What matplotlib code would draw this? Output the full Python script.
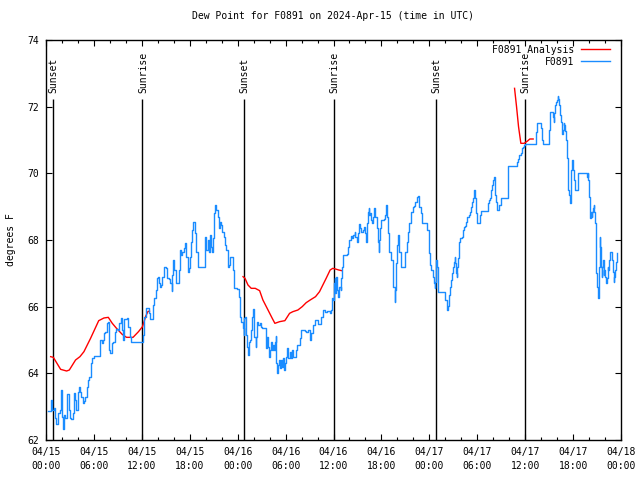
import numpy as np
import matplotlib
matplotlib.use("Agg")
import matplotlib.pyplot as plt
from matplotlib.lines import Line2D

plt.rcParams['font.family'] = ['DejaVu Sans Mono']

title = "Dew Point for F0891 on 2024-Apr-15 (time in UTC)"
ylabel = "degrees F"
series_names = ["F0891 Analysis", "F0891"]

# hours since 04/15 00:00 UTC
obs_hours = [0.25, 0.58, 0.79, 1.0, 1.13, 1.29, 1.5, 1.71, 1.83, 1.96, 2.08, 2.25, 2.42, 2.58, 2.67, 2.83, 2.96, 3.17,
             3.33, 3.5, 3.67, 3.79, 3.96, 4.13, 4.29, 4.42, 4.58, 4.75, 4.92, 5.08, 5.25, 5.42, 5.58, 5.79, 6.0, 6.63,
             6.75, 6.96, 7.08, 7.25, 7.42, 7.58, 7.75, 7.83, 8.0, 8.21, 8.42, 8.58, 8.75, 9.0, 9.17, 9.33, 9.5, 9.58,
             9.75, 10.08, 10.25, 10.5, 10.67, 12.08, 12.17,
             12.33, 12.5, 12.58, 12.83, 12.92, 13.08, 13.33, 13.42, 13.54, 13.75, 13.83, 13.96, 14.08, 14.17, 14.25,
             14.42, 14.58, 14.75, 15.0, 15.17, 15.42, 15.58, 15.75, 15.83, 15.92, 16.0, 16.08, 16.25, 16.58, 16.67,
             16.75, 16.92, 17.08, 17.25, 17.42, 17.58, 17.75, 17.92, 18.08, 18.21, 18.33, 18.46, 18.63, 18.83, 19.04,
             19.79, 19.88, 20.0, 20.08, 20.25, 20.38, 20.5, 20.63, 20.75, 20.88, 21.0, 21.08, 21.17, 21.33, 21.5,
             21.67, 21.79, 21.92, 22.08, 22.25, 22.42, 22.58, 22.75, 22.83, 22.92, 23.08, 23.33, 23.42, 23.5, 23.58,
             23.92, 24.17,
             24.29, 24.46, 24.62, 24.75, 24.83, 24.92, 25.0, 25.17, 25.29, 25.42, 25.58, 25.71, 25.83, 25.9, 26.0,
             26.1, 26.25, 26.33, 26.46, 26.58, 26.75, 26.92, 27.08, 27.38, 27.5, 27.58, 27.67, 27.79, 27.92, 28.08,
             28.2, 28.33, 28.42, 28.58, 28.67, 28.75, 28.83, 28.92, 29.04, 29.17, 29.29, 29.42, 29.54, 29.67, 29.79,
             29.92, 30.08, 30.2, 30.33, 30.5, 30.63, 30.75, 30.92, 31.04, 31.25, 31.42, 31.58, 31.75, 31.92, 32.42,
             32.58, 32.75, 32.92, 33.0, 33.1, 33.17, 33.42, 33.67, 33.92, 34.0, 34.25, 34.46, 34.67, 34.92, 35.17,
             35.5, 35.67, 35.75, 35.92, 36.0, 36.08, 36.17, 36.25, 36.33, 36.42, 36.5,
             36.58, 36.75, 36.92, 37.0, 37.08, 37.17, 37.67, 37.83, 38.0, 38.17, 38.33, 38.5, 38.67, 38.75, 38.92,
             39.08, 39.17, 39.33, 39.5, 39.67, 39.83, 40.0, 40.08, 40.25, 40.33, 40.42, 40.5, 40.58, 40.67, 40.83,
             41.0, 41.08, 41.25, 41.42, 41.58, 41.67, 41.75, 41.83, 41.92, 42.33, 42.5, 42.58, 42.67, 42.75, 42.83,
             43.0, 43.17, 43.25, 43.42, 43.5, 43.67, 43.75, 43.83, 44.0, 44.08, 44.17, 44.25, 44.42, 44.92, 45.0,
             45.17, 45.33, 45.5, 45.67, 45.75, 45.92, 46.08, 46.25, 46.42, 46.58, 46.67, 46.75, 46.92, 47.08, 47.67,
             47.75, 47.92,
             48.0, 48.08, 48.21, 48.42, 48.5, 48.58, 48.67, 48.75, 48.83, 48.92, 49.04, 49.13, 49.88, 50.0, 50.17,
             50.29, 50.42, 50.58, 50.71, 50.83, 50.96, 51.08, 51.17, 51.25, 51.33, 51.42, 51.5, 51.58, 51.67, 51.75,
             51.88, 52.04, 52.17, 52.33, 52.5, 52.58, 52.75, 52.92, 53.08, 53.25, 53.33, 53.46, 53.54, 53.63, 53.71,
             53.83, 53.92, 54.17, 54.33, 54.42, 55.17, 55.29, 55.42, 55.58, 55.71, 55.83, 55.96, 56.08, 56.17, 56.25,
             56.33, 56.42, 56.58, 56.75, 56.92, 57.67, 57.79, 57.88, 58.75, 58.92, 59.08, 59.25, 59.42, 59.58, 59.71,
             59.83, 59.92, 61.2, 61.33, 61.42, 61.92, 62.0, 62.17, 62.25, 62.92, 63.0, 63.13, 63.42, 63.5, 63.58,
             63.67, 63.75, 63.83, 64.0, 64.08, 64.17, 64.25, 64.33, 64.42, 64.5, 64.58, 64.67, 64.75, 64.83, 64.92,
             65.0, 65.08, 65.25, 65.33, 65.42, 65.5, 65.58, 65.67, 65.75, 65.92, 66.0, 66.08, 66.25, 66.5, 66.58,
             66.67, 67.67, 67.75, 67.83, 67.92, 68.0, 68.08, 68.17, 68.25, 68.33, 68.42, 68.5, 68.58, 68.67, 68.75,
             68.83, 68.92, 69.0, 69.08, 69.17, 69.25, 69.33, 69.42, 69.5, 69.58, 69.67, 69.75, 69.83, 69.92, 70.0,
             70.17, 70.25, 70.33, 70.42, 70.5, 70.58, 70.83, 70.92, 71.0, 71.08, 71.17, 71.25, 71.33, 71.42, 71.5]

obs_values = [62.87, 63.2, 62.9, 62.95, 62.65, 62.48, 62.8, 62.9, 63.5, 62.7, 62.32, 62.75, 62.65, 62.74, 63.37, 62.9,
              62.65, 62.62, 62.8, 63.4, 63.2, 62.9, 63.45, 63.58, 63.45, 63.3, 63.1, 63.18, 63.3, 63.6, 63.8, 63.9,
              64.3, 64.45, 64.52, 64.52, 65.0, 64.9, 65.0, 65.2, 65.23, 65.5, 65.55, 64.7, 64.62, 64.9, 64.95, 65.25,
              65.32, 65.3, 65.5, 65.65, 65.3, 65.0, 65.62, 65.65, 65.4, 65.1, 64.95, 64.95, 65.15,
              65.7, 65.75, 65.95, 65.95, 65.8, 65.62, 65.62, 66.05, 66.25, 66.25, 66.5, 66.85, 66.88, 66.7, 66.58,
              66.65, 66.88, 67.18, 67.16, 66.85, 66.82, 66.7, 66.48, 66.95, 67.4, 67.2, 67.1, 66.7, 66.7, 67.1,
              67.7, 67.55, 67.65, 67.75, 67.9, 67.5, 67.05, 67.15, 67.5, 67.95, 68.3, 68.55, 68.2, 67.65, 67.2,
              67.2, 68.1, 68.05, 67.7, 68.0, 67.65, 68.15, 67.8, 67.65, 68.05, 68.1, 68.8, 69.05, 68.9, 68.7,
              68.35, 68.55, 68.45, 68.25, 68.1, 67.85, 67.7, 67.45, 67.2, 67.25, 67.5, 67.5, 67.1, 66.82, 66.55,
              66.52, 66.3,
              65.7, 65.55, 65.35, 65.15, 65.65, 65.7, 65.15, 64.8, 64.55, 64.95, 65.0, 65.3, 65.7, 65.92, 65.65,
              65.1, 64.8, 65.1, 65.55, 65.45, 65.5, 65.38, 65.35, 65.35, 65.05, 64.75, 65.1, 64.8, 64.5, 64.7,
              64.95, 64.7, 64.85, 64.7, 64.95, 65.12, 64.3, 64.0, 64.25, 64.4, 64.15, 64.4, 64.2, 64.45, 64.1,
              64.3, 64.5, 64.75, 64.45, 64.65, 64.45, 64.7, 64.5, 64.5, 64.7, 64.85, 64.85, 65.05, 65.3, 65.28,
              65.25, 65.3, 65.3, 65.15, 65.0, 65.2, 65.45, 65.6, 65.6, 65.48, 65.48, 65.7, 65.9, 65.85, 65.88,
              65.82, 65.9, 66.25, 66.2, 66.5, 66.7, 66.85, 66.4, 66.9, 66.7, 66.5,
              66.3, 66.6, 66.5, 66.85, 67.2, 67.55, 67.58, 67.8, 68.0, 68.12, 68.05, 68.15, 68.25, 68.1, 67.95,
              68.2, 68.47, 68.35, 68.25, 68.3, 68.4, 68.2, 67.95, 68.5, 68.85, 68.95, 68.75, 68.8, 68.6, 68.5,
              68.7, 68.95, 68.7, 68.35, 67.95, 67.65, 68.0, 68.35, 68.6, 68.62, 68.75, 69.05, 68.8, 68.7, 68.2,
              67.65, 67.65, 67.4, 67.2, 66.6, 66.15, 66.5, 67.3, 67.85, 68.15, 68.0, 67.65, 67.18, 67.18, 67.65,
              67.95, 68.25, 68.52, 68.6, 68.85, 69.0, 69.02, 69.15, 69.3, 69.32, 69.2, 69.0, 68.8, 68.5, 68.48,
              68.3, 67.95,
              67.6, 67.25, 67.1, 67.1, 66.9, 66.7, 66.55, 66.75, 67.4, 67.2, 66.7, 66.45, 66.45, 66.2, 65.9,
              66.02, 66.35, 66.6, 66.8, 67.0, 67.2, 67.35, 67.5, 67.3, 67.0, 66.9, 67.2, 67.45, 67.75, 67.95,
              68.05, 68.1, 68.3, 68.4, 68.42, 68.55, 68.7, 68.75, 68.85, 69.0, 69.15, 69.25, 69.45, 69.5, 69.25,
              68.8, 68.5, 68.5, 68.75, 68.88, 68.88, 69.1, 69.2, 69.25, 69.5, 69.65, 69.8, 69.9, 69.7, 69.35,
              69.15, 68.9, 68.9, 69.05, 69.25, 69.25, 69.5, 70.22, 70.22, 70.35, 70.42, 70.55, 70.6, 70.75, 70.8,
              70.85, 70.88, 70.88, 71.25, 71.52, 71.52, 71.35, 71.0, 70.88, 70.88, 71.3, 71.85, 71.85, 71.7, 71.55,
              71.8, 72.05, 72.15, 72.2, 72.32, 72.22, 72.05, 72.0, 71.75, 71.55, 71.4, 71.18, 71.3, 71.5, 71.45,
              71.28, 71.0, 70.45, 69.8, 69.5, 69.35, 69.2, 69.1, 70.1, 70.4, 70.1, 69.8, 69.5, 69.5, 69.8,
              70.0, 70.0, 69.9, 70.0, 69.8, 69.3, 68.95, 68.65, 68.85, 68.7, 68.85, 68.95, 69.05, 68.85, 68.5,
              67.3, 67.0, 66.6, 66.4, 66.25, 67.2, 68.1, 67.8, 67.2, 66.9, 67.2, 67.4, 66.95, 67.1, 66.9,
              66.72, 66.85, 67.2, 67.1, 67.4, 67.65, 67.65, 67.4, 67.05, 66.75, 66.9, 67.1, 67.3, 67.35, 67.6]

# analysis series, NaN marks gaps between runs
ana_hours = [0.58, 0.92, 1.83, 2.58, 2.92, 3.7, 4.25, 4.75, 5.58, 6.6, 7.25, 7.8, 8.3, 8.83, 9.54, 10.08, 10.9,
             11.58, 12.08, 12.5, 12.75, 12.96, 18.0,
             24.67, 24.92, 25.29, 25.7, 26.2, 26.75, 27.16, 27.8, 28.33, 28.66, 29.25, 29.91, 30.5, 30.91, 31.54,
             32.08, 32.58, 33.08, 33.75, 34.25, 35.08, 35.58, 35.91, 36.25, 36.66, 37.04, 48.0,
             58.67, 58.92, 59.17, 59.46, 59.87, 60.3, 60.58, 61.0]
ana_values = [64.5, 64.48, 64.12, 64.07, 64.1, 64.4, 64.5, 64.65, 65.05, 65.58, 65.66, 65.68, 65.5, 65.35, 65.17,
              65.08, 65.08, 65.25, 65.4, 65.72, 65.85, 65.87, np.nan,
              66.9, 66.85, 66.65, 66.55, 66.55, 66.48, 66.2, 65.9, 65.65, 65.5, 65.55, 65.58, 65.8, 65.85, 65.9,
              66.0, 66.12, 66.2, 66.3, 66.45, 66.85, 67.1, 67.15, 67.13, 67.1, 67.08, np.nan,
              72.55, 72.0, 71.4, 70.9, 70.9, 70.97, 71.03, 71.03]

sun_labels = ["Sunset", "Sunrise", "Sunset", "Sunrise", "Sunset", "Sunrise"]
sun_hours = [0.875, 12.04, 24.8, 36.04, 48.8, 59.92]

xtick_hours = [0, 6, 12, 18, 24, 30, 36, 42, 48, 54, 60, 66, 72]
xtick_labels = ["04/15\n00:00", "04/15\n06:00", "04/15\n12:00", "04/15\n18:00",
                "04/16\n00:00", "04/16\n06:00", "04/16\n12:00", "04/16\n18:00",
                "04/17\n00:00", "04/17\n06:00", "04/17\n12:00", "04/17\n18:00", "04/18\n00:00"]
ytick_values = [62, 64, 66, 68, 70, 72, 74]

red = "#ff0000"
blue = "#1a8cff"

fig = plt.figure(figsize=(6.4, 4.8), dpi=100)
ax = fig.add_axes([46 / 640, 40 / 480, 575 / 640, 400 / 480])

ax.set_xlim(0, 72)
ax.set_ylim(62, 74)

# sunrise / sunset markers
for lab, h in zip(sun_labels, sun_hours):
    ax.vlines(h, 62, 72.23, color="black", lw=1.0, zorder=1)
    ax.text(h + 0.1, 72.42, lab, rotation=90, ha="center", va="bottom", fontsize=7, zorder=1)

ax.plot(ana_hours, ana_values, color=red, lw=1.0, zorder=2)
ax.plot(obs_hours, obs_values, color=blue, lw=1.0, zorder=3, drawstyle="steps-post")

ax.set_xticks(xtick_hours)
ax.set_xticklabels(xtick_labels, fontsize=7, linespacing=1.45)
ax.set_xticks(np.arange(0, 73, 2), minor=True)
ax.set_yticks(ytick_values)
ax.set_yticklabels([str(v) for v in ytick_values], fontsize=7)
ax.tick_params(which="both", direction="in", top=True, right=True, width=0.8, color="black")
ax.tick_params(which="major", length=4, pad=5)
ax.tick_params(which="minor", length=2.5)
for s in ax.spines.values():
    s.set_linewidth(1.0)

ax.set_title(title, fontsize=7, pad=15)
ax.set_ylabel(ylabel, fontsize=7, labelpad=8)

# legend (top right, text right-aligned before the line sample)
for i, (name, col) in enumerate(zip(series_names, [red, blue])):
    yy = 0.975 - i * 0.031
    ax.text(0.919, yy, name, transform=ax.transAxes, ha="right", va="center", fontsize=7, zorder=5)
    ax.add_line(Line2D([0.930, 0.981], [yy + 0.003, yy + 0.003], transform=ax.transAxes, color=col, lw=1.0))

fig.savefig("out.png", dpi=100)
